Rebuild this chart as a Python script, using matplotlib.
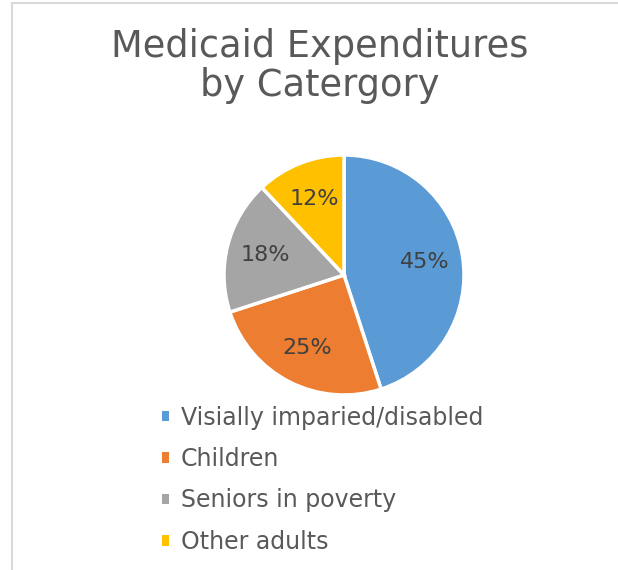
import matplotlib.pyplot as plt
from matplotlib.patches import Rectangle

categories = ['Visially imparied/disabled', 'Children', 'Seniors in poverty', 'Other adults']
shares = [45, 25, 18, 12]
colors = ['#5B9BD5', '#ED7D31', '#A5A5A5', '#FFC000']

plt.rcParams['font.family'] = ['DejaVu Sans']

W, H = 618, 570
fig = plt.figure(figsize=(W / 100, H / 100), dpi=100)

# chart frame (cropped on right and bottom)
fig.patches.append(Rectangle((12 / W, -0.1), 1.2, 1 - 3 / H + 0.1, transform=fig.transFigure,
                             fill=False, edgecolor='#D9D9D9', linewidth=1.5))

fig.text(320 / W, 1 - 66 / H, 'Medicaid Expenditures\nby Catergory', ha='center', va='center',
         fontsize=26.5, color='#595959', linespacing=1.05)

r = 120
cx, cy = 344, 275
ax = fig.add_axes([(cx - r) / W, 1 - (cy + r) / H, 2 * r / W, 2 * r / H])
wedges, texts, autotexts = ax.pie(shares, colors=colors, startangle=90, counterclock=False,
                                  autopct='%d%%', pctdistance=0.68,
                                  wedgeprops=dict(edgecolor='white', linewidth=2.5),
                                  textprops=dict(fontsize=16, color='#404040'))
ax.set_xlim(-1, 1)
ax.set_ylim(-1, 1)
ax.set_aspect('equal')

leg = fig.legend(wedges, categories, loc='upper left', bbox_to_anchor=(145 / W, 1 - 389 / H),
                 frameon=False, fontsize=17, labelcolor='#595959', handlelength=0.32,
                 handleheight=0.32, handletextpad=0.5, labelspacing=0.74, borderpad=0.2)
for h in leg.legend_handles:
    h.set_edgecolor('none')

fig.savefig('out.png', dpi=100)
